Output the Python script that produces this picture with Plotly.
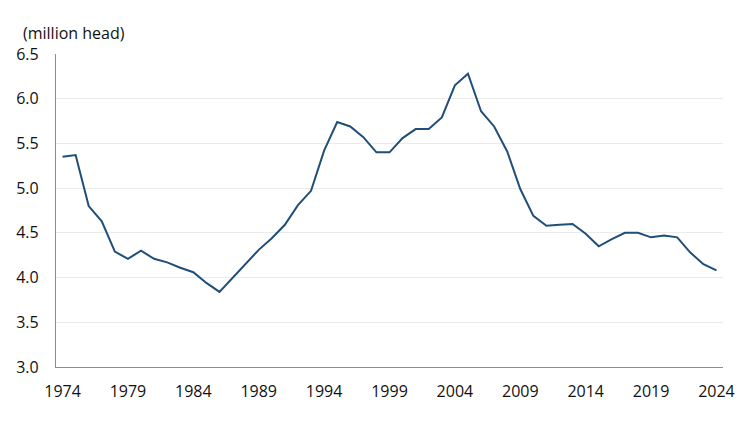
import plotly.graph_objects as go

years = list(range(1974, 2025))
head_millions = [
    5.35, 5.37, 4.80, 4.63, 4.29, 4.21, 4.30, 4.21, 4.17, 4.11,
    4.06, 3.94, 3.84, 4.00, 4.16, 4.31, 4.44, 4.59, 4.81, 4.97,
    5.42, 5.74, 5.69, 5.57, 5.40, 5.40, 5.56, 5.66, 5.66, 5.79,
    6.15, 6.28, 5.86, 5.69, 5.41, 4.99, 4.69, 4.58, 4.59, 4.60,
    4.49, 4.35, 4.43, 4.50, 4.50, 4.45, 4.47, 4.45, 4.28, 4.15,
    4.08,
]
x_ticks = list(range(1974, 2025, 5))
y_ticks = [3.0, 3.5, 4.0, 4.5, 5.0, 5.5, 6.0, 6.5]
unit_label = "(million head)"

fig = go.Figure()
fig.add_trace(go.Scatter(
    x=years, y=head_millions, mode="lines",
    line=dict(color="#1f4e79", width=2),
    hoverinfo="x+y", showlegend=False,
))

font = dict(family="Open Sans, Noto Sans, sans-serif", size=16, color="#111111")

fig.update_layout(
    width=742, height=414,
    margin=dict(l=48, r=27, t=46, b=55, autoexpand=False),
    paper_bgcolor="white", plot_bgcolor="white",
    font=font,
    xaxis=dict(
        range=[1973.5, 2024.5], tickvals=x_ticks,
        ticktext=[str(t) for t in x_ticks],
        showgrid=False, showline=True, linecolor="#8c8c8c", linewidth=1.2,
        ticks="", zeroline=False, tickfont=font, ticklabelstandoff=10,
        automargin=False,
    ),
    yaxis=dict(
        range=[3.0, 6.5], tickvals=y_ticks,
        ticktext=[f"{v:.1f}" for v in y_ticks],
        showgrid=True, gridcolor="#ebebeb", gridwidth=1,
        showline=True, linecolor="#8c8c8c", linewidth=1.2,
        ticks="", zeroline=False, tickfont=font, ticklabelstandoff=13,
        automargin=False,
    ),
    annotations=[dict(
        text=unit_label, xref="paper", yref="paper",
        x=-0.052, y=1.067, xanchor="left", yanchor="middle",
        showarrow=False, font=font,
    )],
)

fig.write_html("out.html")
